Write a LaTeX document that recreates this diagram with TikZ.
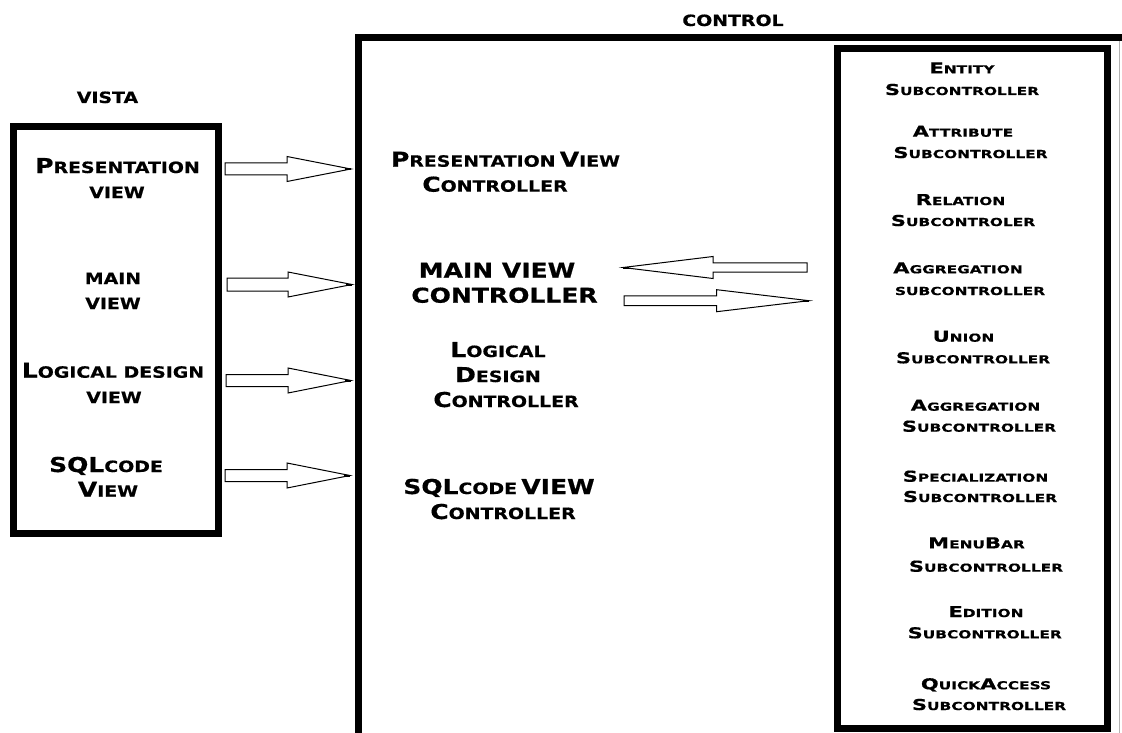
\documentclass[tikz,border=0pt]{standalone}
\usepackage{fontspec}
\newfontfamily\cpL{DejaVu Sans}[FakeStretch=1.22,FakeBold=0.6]
\newfontfamily\cpR{DejaVu Sans}[FakeStretch=1.4,FakeBold=0.5]
\newcommand\BL[1]{{\fontsize{20.5}{20.5}\selectfont #1}}
\newcommand\SL[1]{{\fontsize{15.5}{15.5}\selectfont #1}}
\newcommand\BR[1]{{\fontsize{15}{15}\selectfont #1}}
\newcommand\SR[1]{{\fontsize{11}{11}\selectfont #1}}
% block arrow: #1 name, #2 start x, #3 head base x, #4 tip x, #5 y, #6 shaft half, #7 head half
\newcommand\blockarrow[7]{%
  \coordinate (#1s) at (#2,#5);
  \coordinate (#1t) at (#4,#5);
  \draw[arrowline] (#1s) ++(0,-#6) -- (#3,#5-#6) -- (#3,#5-#7) -- (#1t)
     -- (#3,#5+#7) -- (#3,#5+#6) -- ($(#1s)+(0,#6)$) -- cycle;
  \draw[line width=2pt] ($(#1t)!6pt!(#1s)$) -- (#1t);
}
\usetikzlibrary{calc}
\begin{document}
\begin{tikzpicture}[x=1pt,y=-1pt,
  boxline/.style={draw=black,line width=7pt},
  arrowline/.style={draw=black,line width=1pt,fill=white},
  lt/.style={anchor=base,inner sep=0pt,font=\cpL\bfseries},
  rt/.style={anchor=base,inner sep=0pt,font=\cpR\bfseries}]
\useasboundingbox (0,0) rectangle (1122,733);
\fill[white] (0,0) rectangle (1122,733);

% boxes
\draw[boxline] (13.5,126.5) rectangle (218,533);
\draw[boxline] (358.5,37.5) rectangle (1126,736.5);
\draw[boxline] (837,48.5) rectangle (1107.5,728.5);
\draw[gray!60,line width=0.8pt] (1119,41) -- (1119,733);

% titles
\node[lt] (control) at (733,26) {\SL{CONTROL}};
\node[lt] (vista) at (107.5,103) {\SL{VISTA}};

% vista texts
\node[lt] (v1a) at (117.5,173) {\BL{P}\SL{RESENTATION}};
\node[lt] (v1b) at (117,198) {\SL{VIEW}};
\node[lt] (v2a) at (113,284) {\SL{MAIN}};
\node[lt] (v2b) at (113,309) {\SL{VIEW}};
\node[lt] (v3a) at (113,377.7) {\BL{L}\SL{OGICAL DESIGN}};
\node[lt] (v3b) at (114,403) {\SL{VIEW}};
\node[lt] (v4a) at (106,472) {\BL{SQL}\SL{CODE}};
\node[lt] (v4b) at (108,496.7) {\BL{V}\SL{IEW}};

% controller texts
\node[lt] (c1a) at (505.5,166.7) {\BL{P}\SL{RESENTATION} \BL{V}\SL{IEW}};
\node[lt] (c1b) at (495,191.7) {\BL{C}\SL{ONTROLLER}};
\node[lt] (c2a) at (497,277.7) {\BL{MAIN VIEW}};
\node[lt] (c2b) at (504.5,302.7) {\BL{CONTROLLER}};
\node[lt] (c3a) at (498,357) {\BL{L}\SL{OGICAL}};
\node[lt] (c3b) at (498,382) {\BL{D}\SL{ESIGN}};
\node[lt] (c3c) at (506,407) {\BL{C}\SL{ONTROLLER}};
\node[lt] (c4a) at (499,494) {\BL{SQL}\SL{CODE} \BL{VIEW}};
\node[lt] (c4b) at (503,519) {\BL{C}\SL{ONTROLLER}};

% subcontrollers
\node[rt] (r1a) at (962,73.3) {\BR{E}\SR{NTITY}};
\node[rt] (r1b) at (962,95) {\BR{S}\SR{UBCONTROLLER}};
\node[rt] (r2a) at (963,136.7) {\BR{A}\SR{TTRIBUTE}};
\node[rt] (r2b) at (970.5,158) {\BR{S}\SR{UBCONTROLLER}};
\node[rt] (r3a) at (960.5,205) {\BR{R}\SR{ELATION}};
\node[rt] (r3b) at (963,226) {\BR{S}\SR{UBCONTROLER}};
\node[rt] (r4a) at (958,273.3) {\BR{A}\SR{GGREGATION}};
\node[rt] (r4b) at (970,295) {\SR{SUBCONTROLLER}};
\node[rt] (r5a) at (963.5,341.7) {\BR{U}\SR{NION}};
\node[rt] (r5b) at (973,363.3) {\BR{S}\SR{UBCONTROLLER}};
\node[rt] (r6a) at (975.5,410.7) {\BR{A}\SR{GGREGATION}};
\node[rt] (r6b) at (979,431.7) {\BR{S}\SR{UBCONTROLLER}};
\node[rt] (r7a) at (975.5,481.7) {\BR{S}\SR{PECIALIZATION}};
\node[rt] (r7b) at (980,502) {\BR{S}\SR{UBCONTROLLER}};
\node[rt] (r8a) at (976.5,548.3) {\BR{M}\SR{ENU}\BR{B}\SR{AR}};
\node[rt] (r8b) at (986,571.7) {\BR{S}\SR{UBCONTROLLER}};
\node[rt] (r9a) at (986,617) {\BR{E}\SR{DITION}};
\node[rt] (r9b) at (984.7,638.3) {\BR{S}\SR{UBCONTROLLER}};
\node[rt] (r10a) at (986,689.3) {\BR{Q}\SR{UICK}\BR{A}\SR{CCESS}};
\node[rt] (r10b) at (989,710) {\BR{S}\SR{UBCONTROLLER}};

% block arrows
\blockarrow{a1}{225}{287}{351}{169}{6}{12.5}
\blockarrow{a2}{227}{288}{352}{284.5}{6.5}{12.5}
\blockarrow{a3}{226}{288}{351}{380.5}{6}{12.5}
\blockarrow{a4}{225}{287}{350}{475.5}{6}{12.5}
\blockarrow{a5}{807}{713}{623}{267.5}{4.7}{11}
\blockarrow{a6}{624}{716.7}{809}{300.7}{4.8}{11}
\end{tikzpicture}
\end{document}
